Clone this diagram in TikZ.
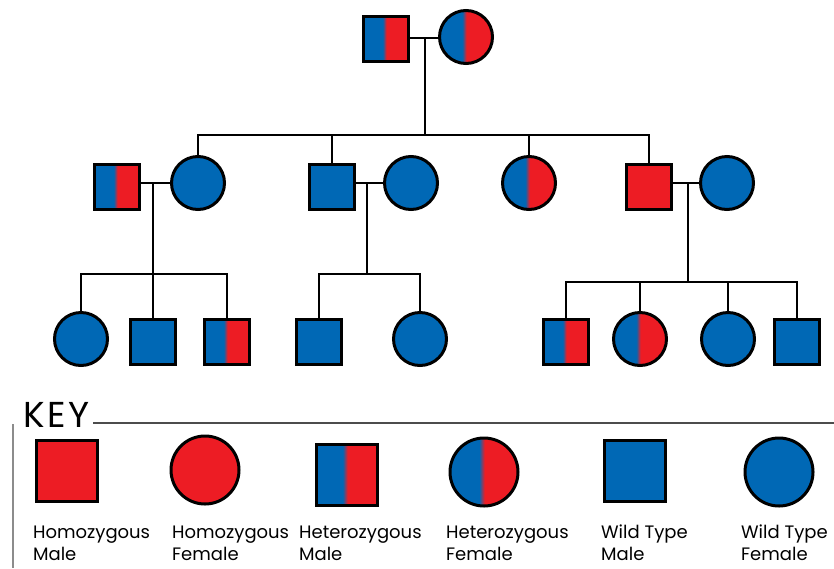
\documentclass[tikz,border=0pt]{standalone}
\usepackage{fontspec}
\setmainfont{Poppins}
\usetikzlibrary{calc}
\definecolor{pedred}{HTML}{ED1C24}
\definecolor{pedblue}{HTML}{0068B5}
\pgfdeclarehorizontalshading{hetfill}{100bp}{color(0bp)=(pedblue); color(46.5bp)=(pedblue); color(50.5bp)=(pedred); color(100bp)=(pedred)}

\begin{document}
\begin{tikzpicture}[x=1pt,y=-1pt,line width=2.3pt,
  male/.style={rectangle,draw,line width=3pt,minimum size=45pt,inner sep=0pt},
  female/.style={circle,draw,line width=3pt,minimum size=53pt,inner sep=0pt},
  hom/.style={fill=pedred},
  wt/.style={fill=pedblue},
  het/.style={shading=hetfill},
  keym/.style={minimum size=61pt},
  keyf/.style={minimum size=68pt},
  lbl/.style={font=\fontsize{18}{22}\selectfont,align=left,anchor=base west,inner sep=0pt}]
\useasboundingbox (0,0) rectangle (834,568);
\node [male,het] (P1) at (386,39) {};
\node [female,het] (P2) at (466,37) {};
\node [male,het] (A1) at (117,187) {};
\node [female,wt] (A2) at (198,183) {};
\node [male,wt] (B1) at (332,187) {};
\node [female,wt] (B2) at (411,183) {};
\node [female,het] (C1) at (529,183) {};
\node [male,hom] (D1) at (649,187) {};
\node [female,wt] (D2) at (727,183) {};
\node [female,wt] (A3) at (81,339) {};
\node [male,wt] (A4) at (153,342) {};
\node [male,het] (A5) at (227,342) {};
\node [male,wt] (B3) at (319,342) {};
\node [female,wt] (B4) at (420,339) {};
\node [male,het] (D3) at (566,342) {};
\node [female,het] (D4) at (640,339) {};
\node [female,wt] (D5) at (728,339) {};
\node [male,wt] (D6) at (797,342) {};
\coordinate (J0) at (425,38);
\coordinate (S0) at (425,135);
\coordinate (J1) at (153,183);
\coordinate (S1) at (153,274);
\coordinate (J2) at (367,183);
\coordinate (S2) at (367,274);
\coordinate (J3) at (688,183);
\coordinate (S3) at (688,282);
\draw (P1.east |- J0) -- (P2.west |- J0);
\draw (J0) -- (S0);
\draw (A2.north) |- (S0) -| (D1.north);
\draw (B1.north) -- (B1.north |- S0);
\draw (C1.north) -- (C1.north |- S0);
\draw (A1.east |- J1) -- (A2.west);
\draw (J1) -- (A4.north);
\draw (A3.north) |- (S1) -| (A5.north);
\draw (B1.east |- J2) -- (B2.west);
\draw (J2) -- (S2);
\draw (B3.north) |- (S2) -| (B4.north);
\draw (D1.east |- J3) -- (D2.west);
\draw (J3) -- (S3);
\draw (D3.north) |- (S3) -| (D6.north);
\draw (D4.north) -- (D4.north |- S3);
\draw (D5.north) -- (D5.north |- S3);

\node [anchor=base west,inner sep=0pt,font=\fontsize{36}{36}\selectfont\addfontfeature{LetterSpace=8}] (key) at (22,427) {KEY};
\draw [black!70,line width=1.8pt] ($(key.base east)+(2,-4)$) -- ++(760,0);
\draw [black!45,line width=1.2pt] (13,424) -- (13,568);
\node [male,hom,keym] (K1) at (67,471) {};
\node [female,hom,keyf] (K2) at (205,470) {};
\node [male,het,keym] (K3) at (347,475) {};
\node [female,het,keyf] (K4) at (484,472) {};
\node [male,wt,keym] (K5) at (635,471) {};
\node [female,wt,keyf] (K6) at (779,472) {};
\node [lbl] (L1) at (32,560) {Homozygous\\Male};
\node [lbl] (L2) at (171,560) {Homozygous\\Female};
\node [lbl] (L3) at (298,560) {Heterozygous\\Male};
\node [lbl] (L4) at (445,560) {Heterozygous\\Female};
\node [lbl] (L5) at (600,560) {Wild Type\\Male};
\node [lbl] (L6) at (740,560) {Wild Type\\Female};
\end{tikzpicture}
\end{document}
